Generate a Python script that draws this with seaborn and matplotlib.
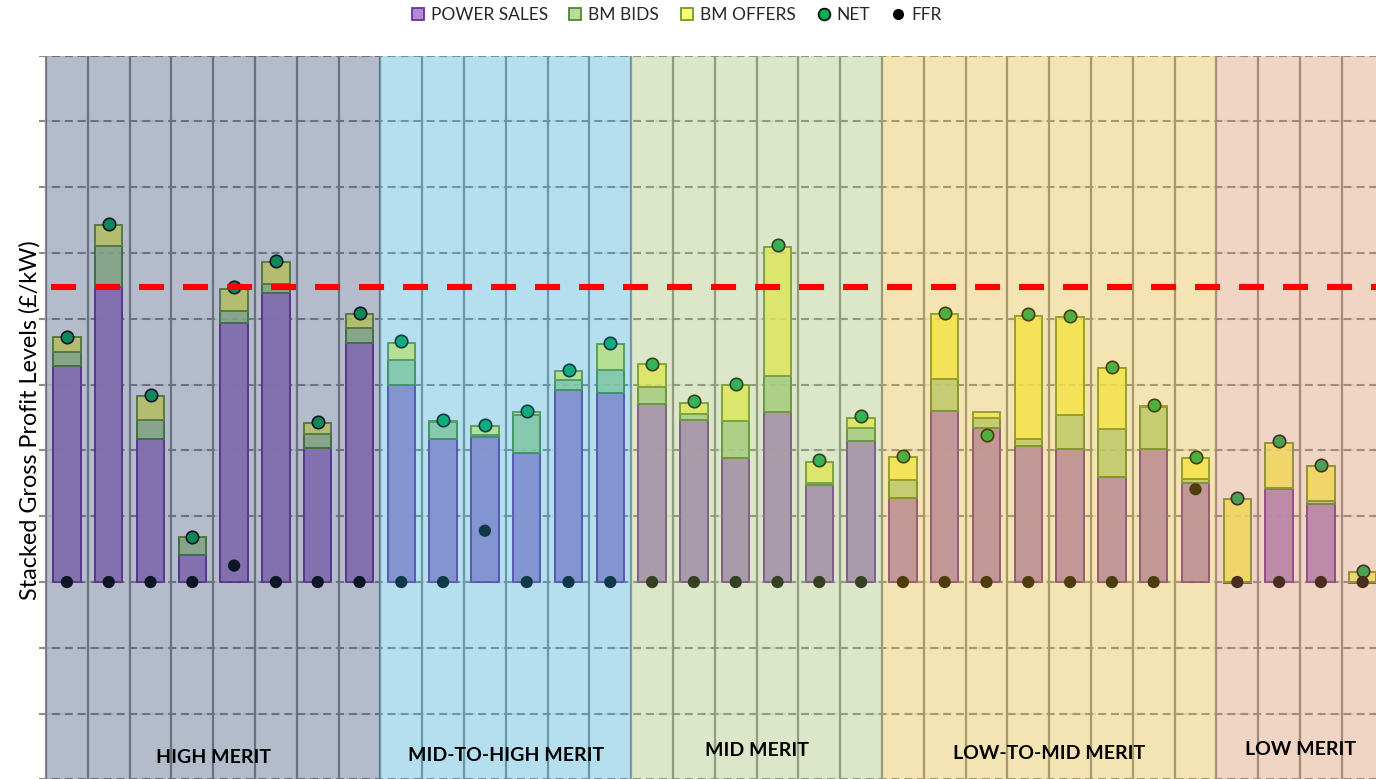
import numpy as np
import pandas as pd
import matplotlib
matplotlib.use("Agg")
import matplotlib.pyplot as plt
from matplotlib.lines import Line2D
import seaborn as sns

# ---- data (£/kW) ---------------------------------------------------------
groups = ["HIGH MERIT", "MID-TO-HIGH MERIT", "MID MERIT", "LOW-TO-MID MERIT", "LOW MERIT"]
group_sizes = [8, 6, 6, 8, 4]

power_sales = [32.8, 44.8, 21.7, 4.1, 39.3, 43.9, 20.3, 36.4,
               29.9, 21.7, 22.0, 19.6, 29.2, 28.7,
               27.0, 24.6, 18.8, 25.8, 14.8, 21.5,
               12.8, 26.0, 23.4, 20.7, 20.2, 16.0, 20.2, 15.0,
               -0.2, 14.1, 11.9, -0.2]
bm_bids = [2.2, 6.3, 2.9, 2.7, 1.9, 1.4, 2.2, 2.2,
           3.8, 2.6, 0.3, 5.8, 1.5, 3.6,
           2.7, 1.0, 5.6, 5.5, 0.3, 1.9,
           2.7, 4.9, 1.5, 1.0, 5.2, 7.2, 6.4, 0.7,
           0.0, 0.2, 0.4, 0.0]
bm_offers = [2.2, 3.2, 3.7, 0.1, 3.4, 3.4, 1.6, 2.1,
             2.7, 0.1, 1.4, 0.4, 1.4, 3.9,
             3.4, 1.6, 5.5, 19.6, 3.2, 1.6,
             3.5, 9.8, 0.9, 18.8, 14.9, 9.4, 0.2, 3.1,
             12.6, 6.9, 5.3, 1.5]
net = [37.3, 54.4, 28.4, 6.8, 44.9, 48.8, 24.3, 40.9,
       36.6, 24.6, 23.8, 26.0, 32.2, 36.4,
       33.2, 27.5, 30.1, 51.2, 18.5, 25.3,
       19.2, 40.9, 22.4, 40.7, 40.5, 32.7, 26.9, 19.0,
       12.7, 21.4, 17.8, 1.7]
ffr = [0.0, 0.0, 0.0, 0.0, 2.5, 0.0, 0.0, 0.0,
       0.0, 0.0, 7.8, 0.0, 0.0, 0.0,
       0.0, 0.0, 0.0, 0.0, 0.0, 0.0,
       0.0, 0.0, 0.0, 0.0, 0.0, 0.0, 0.0, 14.1,
       0.0, 0.0, 0.0, 0.0]
threshold = 44.8

# ---- styling -------------------------------------------------------------
POWER_FILL, POWER_EDGE = "#b28cd2", "#7030a0"
BIDS_FILL, BIDS_EDGE = "#b8dc9c", "#4f8a2c"
OFFERS_FILL, OFFERS_EDGE = "#ffff73", "#6f9a2c"
NET_COLOR = "#00b050"
FFR_COLOR = "#000000"
GRID_COLOR = "#8c8c8c"
BAND_COLORS = ["#29406d", "#2ca6d1", "#9bb862", "#e2af26", "#d48759"]
BAND_ALPHA = 0.35
LABEL_Y = [-26.6, -26.3, -25.6, -26.0, -25.5]

sns.set_theme(style="white")
plt.rcParams["font.family"] = ["Lato", "DejaVu Sans"]

W, H = 1376, 779
fig = plt.figure(figsize=(W / 100, H / 100), dpi=100)

px_per_cat = 41.8
x_left_px, x_right_px = 39.0, 46.0 + 32 * px_per_cat
y_top_px, y_bot_px = 55.7, 779.4
ax = fig.add_axes([x_left_px / W, (H - y_bot_px) / H,
                   (x_right_px - x_left_px) / W, (y_bot_px - y_top_px) / H])
ax.set_xlim(-0.5 - (46.0 - x_left_px) / px_per_cat, 31.5)
ax.set_ylim(-30, 80)
for s in ax.spines.values():
    s.set_visible(False)

n = len(power_sales)
pos = np.arange(n)
df = pd.DataFrame({"pos": pos, "power": power_sales, "bids": bm_bids,
                   "offers": bm_offers, "net": net, "ffr": ffr})
base = np.maximum(df["power"].to_numpy(), 0)

# grid: dashed horizontals, solid category separators
grid_y = np.arange(-30, 81, 10)
ax.hlines(grid_y, ax.get_xlim()[0], 31.5, colors=GRID_COLOR, lw=1.5,
          linestyles=(0, (3.8, 2.4)), zorder=1)
ax.vlines(np.arange(-0.5, n), -30, 80, colors=GRID_COLOR, lw=1.6, zorder=1)

# stacked bars
bar_kw = dict(native_scale=True, width=0.66, saturation=1, errorbar=None,
              linewidth=1.4, ax=ax, zorder=2)
sns.barplot(data=df, x="pos", y="power", color=POWER_FILL,
            edgecolor=POWER_EDGE, **bar_kw)
sns.barplot(data=df, x="pos", y="bids", bottom=base, color=BIDS_FILL,
            edgecolor=BIDS_EDGE, **bar_kw)
sns.barplot(data=df, x="pos", y="offers", bottom=base + df["bids"].to_numpy(),
            color=OFFERS_FILL, edgecolor=OFFERS_EDGE, **bar_kw)

# faint grid showing through the bars
ax.hlines(grid_y, -0.5, 31.5, colors=GRID_COLOR, lw=1.2,
          linestyles=(0, (3.8, 2.4)), alpha=0.22, zorder=3)

# markers
sns.scatterplot(data=df, x="pos", y="net", color=NET_COLOR, edgecolor="black",
                linewidth=1.2, s=80, ax=ax, zorder=4, legend=False)
sns.scatterplot(data=df, x="pos", y="ffr", color=FFR_COLOR, edgecolor="none",
                s=78, ax=ax, zorder=4.5, legend=False)

# merit-order bands
start = -0.5
for name, size, col, ly in zip(groups, group_sizes, BAND_COLORS, LABEL_Y):
    ax.axvspan(start, start + size, color=col, alpha=BAND_ALPHA, lw=0, zorder=5)
    ax.text(start + size / 2, ly, name, ha="center", va="center",
            fontsize=14, fontweight="bold", color="black", zorder=7)
    start += size

# threshold line
ax.plot([-0.39, 31.6], [threshold, threshold], color="#ff0000", lw=4.4,
        dashes=(4.1, 3.1), solid_capstyle="butt", zorder=6)

ax.set_xticks([])
ax.set_yticks([])
ax.set_xlabel("")
ax.set_ylabel("")

fig.text(30 / W, 1 - 420 / H, "Stacked Gross Profit Levels (£/kW)",
         rotation=90, ha="center", va="center", fontsize=16.8, color="black")

handles = [
    Line2D([], [], ls="", marker="s", ms=8.5, mfc=POWER_FILL, mec=POWER_EDGE, mew=1.3),
    Line2D([], [], ls="", marker="s", ms=8.5, mfc=BIDS_FILL, mec=BIDS_EDGE, mew=1.3),
    Line2D([], [], ls="", marker="s", ms=8.5, mfc=OFFERS_FILL, mec=OFFERS_EDGE, mew=1.3),
    Line2D([], [], ls="", marker="o", ms=8.5, mfc=NET_COLOR, mec="black", mew=1.2),
    Line2D([], [], ls="", marker="o", ms=8, mfc=FFR_COLOR, mec=FFR_COLOR, mew=0),
]
labels = ["POWER SALES", "BM BIDS", "BM OFFERS", "NET", "FFR"]
fig.legend(handles, labels, loc="center", bbox_to_anchor=(676 / W, 1 - 15 / H),
           ncol=5, frameon=False, fontsize=12.5, handlelength=0.8,
           handletextpad=0.35, columnspacing=1.2, borderpad=0)

fig.savefig("out.png", dpi=100)
